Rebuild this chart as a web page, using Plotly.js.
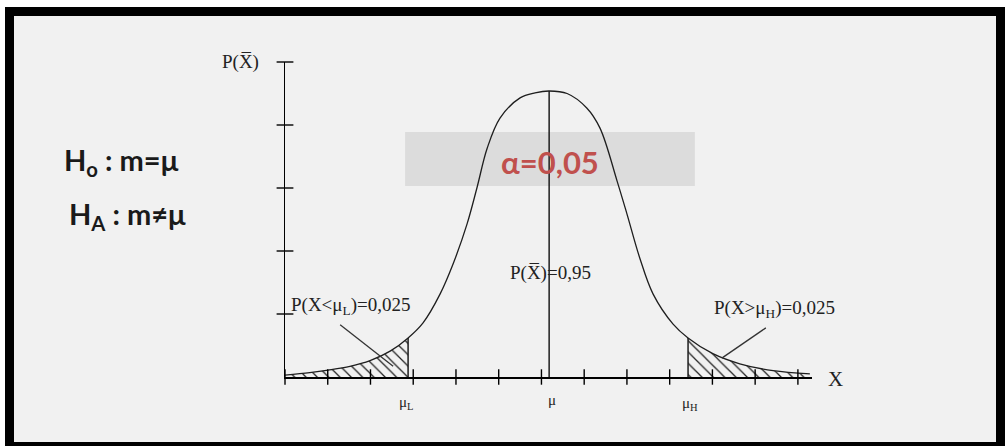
<!DOCTYPE html>
<html>
<head>
<meta charset="utf-8">
<script src="https://cdn.plot.ly/plotly-3.0.1.min.js"></script>
<style>
  html, body { margin: 0; padding: 0; background: #ffffff; }
  #frame {
    position: absolute; left: 5px; top: 7px;
    width: 982px; height: 426px;
    border: 9px solid #000000;
    background: #f1f1f1;
  }
  #chart { width: 982px; height: 426px; }
</style>
</head>
<body>
<div id="frame"><div id="chart"></div></div>
<script>
// Sampling distribution of the mean: density curve P(X̄) over X (axis tick units)
const curveX = [0.00, 0.58, 1.01, 1.52, 1.99, 2.46, 2.88, 3.23, 3.63, 3.93, 4.26, 4.49, 4.73, 5.03, 5.50, 5.85,
                6.18, 6.60, 7.06, 7.37, 7.77, 8.00, 8.30, 8.61, 9.08, 9.43, 10.01, 10.64, 11.42, 12.28];
const curveY = [0.03, 0.07, 0.11, 0.17, 0.26, 0.41, 0.62, 0.86, 1.32, 1.79, 2.43, 3.00, 3.63, 4.11, 4.43, 4.51,
                4.54, 4.50, 4.27, 3.95, 3.11, 2.59, 1.89, 1.32, 0.84, 0.62, 0.37, 0.21, 0.10, 0.05];

// Mean and the two critical bounds
const mu = 6.18;
const muL = 2.88;
const muH = 9.43;

// Axis extents and tick positions
const xRange = [0, 12.33];
const yRange = [0, 5];
const xTicks = [0, 1, 2, 3, 4, 5, 6, 7, 8, 9, 10, 11, 12];
const yTicks = [1, 2, 3, 4, 5];

// Labels
const probLow = 'P(X<μ<sub>L</sub>)=0,025';
const probHigh = 'P(X>μ<sub>H</sub>)=0,025';
const probMid = 'P(X̅)=0,95';
const densityLabel = 'P(X̅)';
const alphaText = 'α=0,05';
const h0Text = 'H<sub>o</sub> : m=μ';
const hAText = 'H<sub>A</sub> : m≠μ';

const yAt = (x) => curveY[curveX.indexOf(x)];
// axis units -> paper fractions, for labels that sit outside the axis ranges
const px = (u) => (u - xRange[0]) / (xRange[1] - xRange[0]);
const py = (v) => (v - yRange[0]) / (yRange[1] - yRange[0]);

// Tail regions taken from the curve samples
const lowX = [], lowY = [], highX = [], highY = [];
curveX.forEach((x, i) => {
  if (x <= muL) { lowX.push(x); lowY.push(curveY[i]); }
  if (x >= muH) { highX.push(x); highY.push(curveY[i]); }
});

const ink = '#1e1e1e';
const hatch = { shape: '\\', size: 8, solidity: 0.16, fgcolor: '#222222', bgcolor: 'rgba(0,0,0,0)' };

const traces = [
  { x: lowX, y: lowY, mode: 'none', fill: 'tozeroy', fillcolor: 'rgba(0,0,0,0)',
    fillpattern: hatch, line: { shape: 'spline' }, hoverinfo: 'skip' },
  { x: highX, y: highY, mode: 'none', fill: 'tozeroy', fillcolor: 'rgba(0,0,0,0)',
    fillpattern: hatch, line: { shape: 'spline' }, hoverinfo: 'skip' },
  { x: curveX, y: curveY, mode: 'lines', line: { color: ink, width: 1.3, shape: 'spline', smoothing: 1 } },
  // bound and mean verticals
  { x: [muL, muL], y: [0, yAt(muL)], mode: 'lines', line: { color: ink, width: 1.5 } },
  { x: [muH, muH], y: [0, yAt(muH)], mode: 'lines', line: { color: ink, width: 1.5 } },
  { x: [mu, mu], y: [0, yAt(mu)], mode: 'lines', line: { color: ink, width: 1.5 } },
  // crossing tick marks on both axes
  { x: xTicks, y: xTicks.map(() => 0), mode: 'markers', cliponaxis: false,
    marker: { symbol: 'line-ns', size: 11, line: { color: '#000', width: 1.4 } } },
  { x: yTicks.map(() => 0), y: yTicks, mode: 'markers', cliponaxis: false,
    marker: { symbol: 'line-ew', size: 12, line: { color: '#000', width: 1.4 } } }
];

const serif = { family: 'Liberation Serif, Times New Roman, serif', size: 19, color: '#222' };
const sansBold = { family: 'Lato, Open Sans, sans-serif', size: 29, color: '#1a1a1a', weight: 'bold' };

// centred text label in paper space
const note = (text, u, v, font, xanchor) => ({
  text, x: px(u), y: py(v), xref: 'paper', yref: 'paper',
  xanchor: xanchor || 'center', yanchor: 'middle', showarrow: false, font
});

const layout = {
  width: 982, height: 426,
  margin: { l: 271, r: 184, t: 46, b: 65, pad: 0 },
  paper_bgcolor: '#f1f1f1', plot_bgcolor: 'rgba(0,0,0,0)',
  showlegend: false,
  xaxis: { range: xRange, showline: true, linecolor: '#000', linewidth: 1.5,
           showgrid: false, zeroline: false, showticklabels: false, ticks: '', fixedrange: true },
  yaxis: { range: yRange, showline: true, linecolor: '#000', linewidth: 1.5,
           showgrid: false, zeroline: false, showticklabels: false, ticks: '', fixedrange: true },
  shapes: [
    { type: 'rect', xref: 'x', yref: 'y', x0: 2.81, x1: 9.59, y0: 3.03, y1: 3.89,
      fillcolor: '#dcdcdc', line: { width: 0 }, layer: 'below' },
    { type: 'line', xref: 'x', yref: 'y', x0: 1.29, y0: 0.83, x1: 2.53, y1: 0.17,
      line: { color: '#333', width: 1.3 } },
    { type: 'line', xref: 'x', yref: 'y', x0: 11.25, y0: 0.78, x1: 10.22, y1: 0.30,
      line: { color: '#333', width: 1.3 } }
  ],
  annotations: [
    note(densityLabel, -1.05, 5.0, serif),
    note(h0Text, -5.22, 3.42, sansBold, 'left'),
    note(hAText, -5.10, 2.56, sansBold, 'left'),
    note(alphaText, 6.20, 3.42, { family: 'Lato, Open Sans, sans-serif', size: 31, color: '#c0504d', weight: 'bold' }),
    note(probMid, 5.22, 1.65, serif, 'left'),
    note(probLow, 0.10, 1.12, serif, 'left'),
    note(probHigh, 9.99, 1.08, serif, 'left'),
    note('μ<sub>L</sub>', muL - 0.05, -0.41, { ...serif, size: 15 }),
    note('μ', mu + 0.07, -0.37, { ...serif, size: 15 }),
    note('μ<sub>H</sub>', muH + 0.04, -0.43, { ...serif, size: 15 }),
    note('X', 12.87, -0.03, { ...serif, size: 21 })
  ]
};

Plotly.newPlot('chart', traces, layout, { displayModeBar: false, staticPlot: true });
</script>
</body>
</html>
